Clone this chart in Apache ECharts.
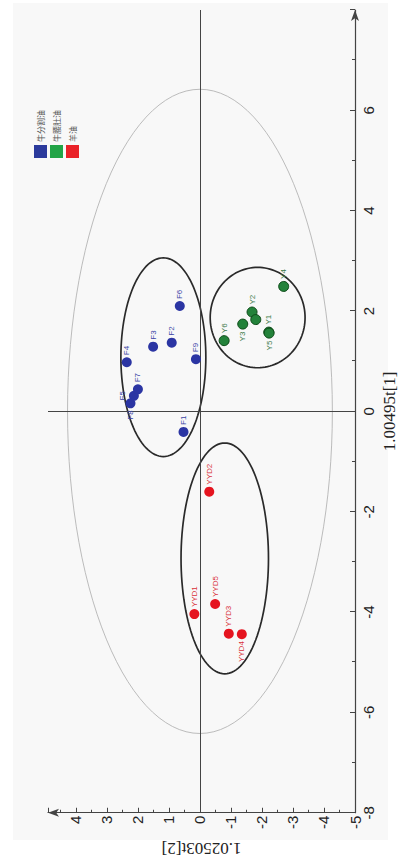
<!DOCTYPE html>
<html>
<head>
<meta charset="utf-8">
<script src="https://cdn.jsdelivr.net/npm/echarts@6/dist/echarts.min.js"></script>
<style>
    html, body {margin: 0; padding: 0; background: #fff; width: 404px; height: 865px; overflow: hidden;}
    /* the figure is printed turned a quarter to the left, so draw it upright and turn the box */
    #main {position: absolute; left: 0; top: 0; width: 865px; height: 404px;
        transform-origin: 0 0; transform: translateY(865px) rotate(-90deg);}
</style>
</head>
<body>
<div id="main"></div>
<script>
    // scores: t[1] and t[2]
    var blueNames = ['F1', 'F2', 'F3', 'F4', 'F5', 'F6', 'F7', 'F8', 'F9'];
    var blueT1 = [-0.41, 1.37, 1.29, 0.98, 0.31, 2.10, 0.44, 0.16, 1.04];
    var blueT2 = [0.53, 0.91, 1.51, 2.36, 2.13, 0.65, 2.00, 2.24, 0.13];

    var greenNames = ['Y1', 'Y2', '', 'Y3', 'Y4', 'Y5', 'Y6'];
    var greenT1 = [1.58, 1.98, 1.83, 1.74, 2.49, 1.56, 1.41];
    var greenT2 = [-2.22, -1.68, -1.80, -1.38, -2.70, -2.23, -0.78];

    var redNames = ['YYD1', 'YYD2', 'YYD3', 'YYD4', 'YYD5'];
    var redT1 = [-4.04, -1.60, -4.43, -4.44, -3.84];
    var redT2 = [0.18, -0.30, -0.93, -1.35, -0.49];

    var groupNames = ['牛分割油', '牛腰肚油', '羊油'];

    // Hotelling ellipse first, then one per group: centre and half widths
    var ellipseT1 = [0, 1.08, 1.87, -2.93];
    var ellipseT2 = [0, 1.18, -1.86, -0.80];
    var ellipseR1 = [6.42, 1.98, 1.00, 2.30];
    var ellipseR2 = [4.27, 1.37, 1.53, 1.41];

    var t1Ticks = {min: -8, max: 8, step: 2};
    var t2Ticks = {min: -5, max: 4.9, step: 1};

    // labels that sit somewhere other than to the right
    var labelLeft = ['F8', 'Y3', 'Y5', 'YYD4'];
    var labelTop = ['F5'];

    function points(names, t1, t2) {
        return names.map(function (n, i) {
            var pos = 'right';
            if (labelLeft.indexOf(n) >= 0) pos = 'left';
            if (labelTop.indexOf(n) >= 0) pos = 'top';
            return {name: n, value: [t1[i], t2[i]], label: {position: pos}};
        });
    }

    var myChart = echarts.init(document.getElementById('main'), null, {renderer: 'svg'});

    var axisFont = {fontFamily: 'Liberation Sans', fontSize: 15, color: '#222'};

    function scatter(name, data, color, labelColor, border) {
        return {
            name: name,
            type: 'scatter',
            data: data,
            symbolSize: 10,
            itemStyle: {color: color, borderColor: border || color, borderWidth: border ? 1 : 0, opacity: 1},
            label: {
                show: true, fontSize: 8, color: labelColor, distance: 2,
                fontFamily: 'Liberation Sans',
                formatter: function (p) { return p.name; }
            },
            z: 5
        };
    }

    var option = {
        animation: false,
        backgroundColor: '#fff',
        graphic: [{
            type: 'rect', z: -100,
            shape: {x: 25, y: 13, width: 837, height: 375},
            style: {fill: '#f8f8f8'}
        }],
        grid: {left: 47, right: 10, top: 48, bottom: 49},
        legend: {
            orient: 'vertical', left: 702, top: 29,
            itemWidth: 13, itemHeight: 13, itemGap: 3, icon: 'rect',
            textStyle: {fontSize: 8, color: '#555', fontFamily: 'Noto Sans CJK SC', padding: [0, 0, 0, -2]},
            data: [
                {name: groupNames[0], itemStyle: {color: '#2b3a9c', borderWidth: 0}},
                {name: groupNames[1], itemStyle: {color: '#22a447', borderWidth: 0}},
                {name: groupNames[2], itemStyle: {color: '#ea2228', borderWidth: 0}}
            ]
        },
        xAxis: {
            type: 'value', min: t1Ticks.min, max: t1Ticks.max, interval: t1Ticks.step,
            name: '1.00495t[1]', nameLocation: 'middle', nameGap: 22,
            nameTextStyle: {fontFamily: 'Liberation Serif', fontSize: 17, color: '#222'},
            axisLine: {onZero: false, symbol: ['none', 'arrow'], symbolSize: [6, 11],
                lineStyle: {color: '#444', width: 1.2}},
            axisTick: {inside: true, length: 5, lineStyle: {color: '#444'}},
            minorTick: {show: true, splitNumber: 2, length: 3, lineStyle: {color: '#444'}},
            splitLine: {show: false},
            axisLabel: Object.assign({showMaxLabel: false, margin: 6}, axisFont)
        },
        yAxis: {
            type: 'value', min: t2Ticks.min, max: t2Ticks.max, interval: t2Ticks.step,
            name: '1.02503t[2]', nameLocation: 'middle', nameGap: 25,
            nameTextStyle: {fontFamily: 'Liberation Serif', fontSize: 17, color: '#222'},
            axisLine: {onZero: false, symbol: ['none', 'arrow'], symbolSize: [6, 11],
                lineStyle: {color: '#444', width: 1.2}},
            axisTick: {inside: true, length: 5, lineStyle: {color: '#444'}},
            minorTick: {show: true, splitNumber: 2, length: 3, lineStyle: {color: '#444'}},
            splitLine: {show: false},
            axisLabel: Object.assign({showMaxLabel: false, margin: 3}, axisFont)
        },
        series: [
            {
                name: 'ellipses',
                type: 'custom',
                silent: true,
                data: ellipseT1.map(function (c, i) {
                    return [c, ellipseT2[i], ellipseR1[i], ellipseR2[i]];
                }),
                renderItem: function (params, api) {
                    var c1 = api.value(0), c2 = api.value(1), r1 = api.value(2), r2 = api.value(3);
                    var pts = [];
                    for (var k = 0; k < 120; k++) {
                        var a = k / 120 * Math.PI * 2;
                        pts.push(api.coord([c1 + r1 * Math.cos(a), c2 + r2 * Math.sin(a)]));
                    }
                    var outer = params.dataIndex === 0;
                    return {
                        type: 'polygon',
                        shape: {points: pts},
                        style: {fill: 'none', stroke: outer ? '#b4b4b4' : '#2a2a2a', lineWidth: outer ? 0.9 : 1.7}
                    };
                },
                markLine: {
                    silent: true,
                    symbol: ['none', 'none'],
                    label: {show: false},
                    lineStyle: {type: 'solid', color: '#444', width: 1},
                    data: [{xAxis: 0}, {yAxis: 0}]
                },
                z: 3
            },
            scatter(groupNames[0], points(blueNames, blueT1, blueT2), '#2b35a3', '#3a45a6'),
            scatter(groupNames[1], points(greenNames, greenT1, greenT2), '#23823a', '#3b7a48', '#0c4a17'),
            scatter(groupNames[2], points(redNames, redT1, redT2), '#e5141f', '#d8303a')
        ]
    };
    myChart.setOption(option);
</script>
</body>
</html>
